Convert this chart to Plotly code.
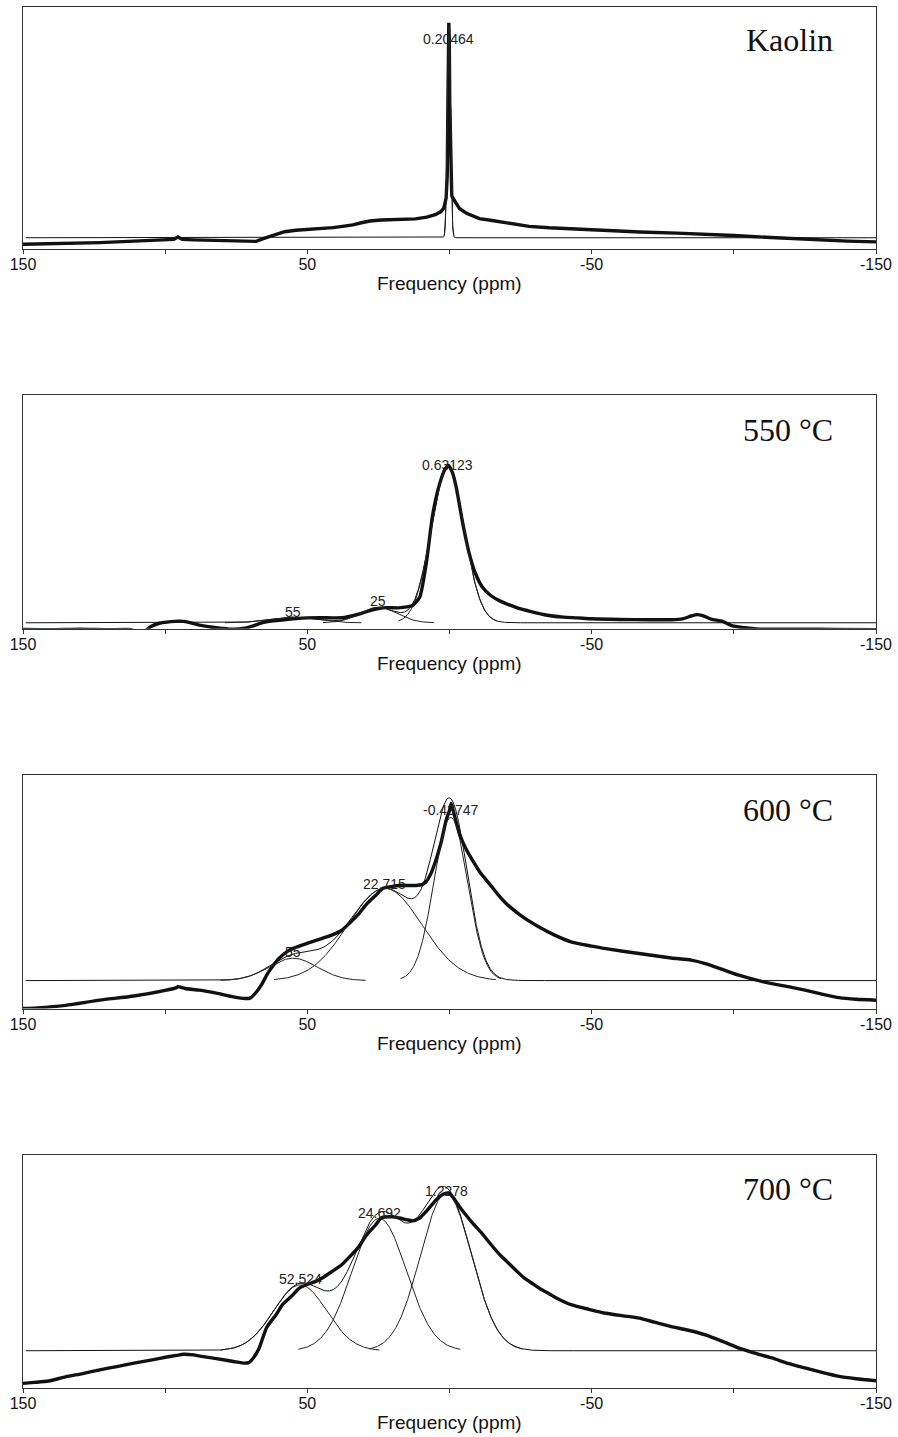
import numpy as np
import plotly.graph_objects as go

# ---------------------------------------------------------------------------
# 27Al MAS NMR spectra (chemical shift in ppm, intensity in % of panel height)
# ---------------------------------------------------------------------------
kaolin_ppm = [150, 146, 135, 123, 111, 100, 97, 95.5, 94, 90, 80, 72, 68, 65.5, 62,
              58, 54, 50, 45, 41, 37, 34, 31, 28, 24, 18, 12, 8, 5, 3, 2, 1.2, 0.8,
              0.6, 0.4, 0.25, 0.1, -0.1, -0.4, -0.8, -1.5, -3.5, -6, -8, -10.5, -15,
              -22, -28, -35, -43, -55, -67, -80, -90, -100, -113, -122, -131, -140, -150]
kaolin_int = [2.0, 2.1, 2.3, 2.7, 3.3, 3.9, 4.0, 5.0, 4.0, 3.8, 3.5, 3.2, 3.2, 4.3, 5.8,
              7.2, 7.8, 8.1, 8.5, 8.9, 9.5, 10.0, 10.9, 11.6, 12.0, 12.3, 12.5, 13.2, 14.2,
              15.5, 17.0, 21.0, 30.0, 55.0, 82.0, 93.5, 88.0, 60.0, 32.0, 22.0, 20.5, 16.8,
              14.8, 13.8, 12.6, 11.8, 10.4, 9.4, 8.8, 8.3, 7.6, 7.1, 6.6, 6.2, 5.6, 4.8,
              4.2, 3.7, 3.3, 3.0]

t550_ppm = [150, 140, 130, 120, 112, 110, 108, 106.5, 105, 102, 98, 95, 92, 88, 84, 80,
            76, 72, 69, 66, 62, 58, 54, 50, 45, 41, 37, 34, 31, 28, 25, 22, 18, 15, 13,
            10.5, 8.2, 5.9, 3.5, 1.5, 0.35, -1, -2.3, -4.7, -7, -9.2, -11.6, -14.5,
            -17.5, -23.4, -29, -35, -40, -45, -50, -60, -70, -78, -82, -85, -87, -89,
            -92, -96, -99, -103, -108, -115, -125, -135, -150]
t550_int = [-0.3, -0.4, -0.2, -0.4, -0.3, -1.5, -3.0, -0.5, 1.0, 2.4, 3.1, 3.3, 2.9, 1.6,
            0.8, 0.2, -0.2, 0.3, 1.3, 2.6, 3.4, 3.9, 4.4, 4.7, 4.8, 4.7, 4.9, 5.6, 6.6,
            7.8, 8.7, 9.1, 9.0, 9.4, 10.0, 13.5, 27.8, 49.0, 62.0, 68.5, 70.0, 67.0, 61.0,
            45.0, 32.0, 23.5, 17.8, 14.3, 12.1, 9.2, 7.3, 5.7, 5.0, 4.7, 4.3, 4.0, 3.9,
            3.9, 4.3, 5.5, 6.1, 5.7, 4.2, 3.2, 1.5, 0.6, 0.0, -0.2, -0.1, -0.3, -0.4]

t600_ppm = [150, 145, 135, 123, 111, 100, 96, 95.5, 93, 88, 82, 76, 72, 70, 68, 66, 64,
            62, 60, 57, 55, 50, 45, 41, 38, 35, 32, 29, 26, 23.5, 20, 17.6, 14, 11.8,
            9.5, 8.3, 6.5, 4.8, 3, 1.2, 0, -0.6, -1.5, -3.5, -6, -8.1, -11, -14, -17,
            -20, -25, -31.5, -37, -43, -50, -55, -66.7, -78, -85, -90, -96, -101.8,
            -107, -113.4, -120, -125, -131, -137, -143, -150]
t600_int = [0.0, 0.3, 1.4, 3.6, 5.4, 7.8, 9.0, 9.4, 8.6, 7.9, 6.6, 5.0, 4.3, 4.6, 7.0,
            10.5, 15.0, 18.5, 21.5, 24.5, 25.8, 28.0, 30.0, 31.7, 33.5, 36.8, 40.5, 45.0,
            48.5, 51.5, 52.4, 52.8, 52.8, 52.8, 53.3, 54.3, 58.0, 63.6, 71.0, 80.7, 85.0,
            88.0, 84.0, 75.0, 68.0, 63.6, 58.0, 53.6, 49.0, 45.0, 40.0, 35.0, 31.5, 28.5,
            26.8, 25.7, 23.6, 21.7, 20.8, 19.3, 16.8, 14.3, 12.5, 10.7, 9.2, 7.9, 6.2,
            4.7, 4.0, 3.6]

t700_ppm = [150, 146, 141, 135, 129, 123, 117, 111, 105, 99.5, 96, 93.6, 90, 87.8, 82,
            76, 72, 70.5, 69, 67, 64.3, 61, 58.6, 55.5, 52.7, 50, 47, 44, 41, 38, 35,
            32, 29.3, 26, 24, 20, 17.6, 15, 13, 10.5, 8.3, 6, 3.6, 1.5, 0, -1.5, -3.5,
            -6, -8, -11.7, -14, -17.5, -20, -23.4, -26, -29.2, -32, -35, -37.4, -43,
            -49, -55, -61, -66.7, -72, -78, -84, -90, -96, -101.8, -107, -113.4, -119,
            -125, -131, -137, -143, -150]
t700_int = [2.0, 2.4, 3.0, 4.8, 6.2, 7.8, 9.2, 10.7, 12.0, 13.3, 14.0, 14.5, 14.2, 13.7,
            12.6, 11.4, 10.7, 11.0, 12.9, 17.0, 26.0, 31.5, 36.0, 39.5, 43.0, 44.5, 45.8,
            47.8, 50.3, 52.8, 56.5, 60.5, 65.5, 70.0, 73.0, 73.5, 73.0, 72.3, 71.8, 73.0,
            75.7, 79.0, 82.1, 83.6, 83.6, 81.5, 77.9, 74.0, 71.0, 66.0, 62.5, 57.5, 54.5,
            50.5, 47.5, 44.8, 42.5, 40.5, 38.8, 35.7, 33.8, 32.1, 31.0, 30.0, 28.3, 26.4,
            24.8, 22.8, 20.0, 17.1, 15.1, 12.9, 10.6, 8.6, 6.7, 5.0, 4.0, 3.1]

# ---------------------------------------------------------------------------
# Gaussian deconvolution results: position (ppm), height (%), width sigma (ppm)
# ---------------------------------------------------------------------------
kaolin_pos = [0.20464]
kaolin_amp = [87.3]
kaolin_sigma = [0.55]
kaolin_base = 4.7

t550_pos = [0.63123, 25, 55]
t550_amp = [66.6, 6.6, 2.4]
t550_sigma = [5.8, 6.5, 8.0]
t550_base = 2.6

t600_pos = [-0.43747, 22.715, 55]
t600_amp = [70.0, 39.6, 9.6]
t600_sigma = [5.9, 13.0, 8.5]
t600_base = 12.0

t700_pos = [1.2278, 24.692, 52.524]
t700_amp = [67.6, 56.9, 28.3]
t700_sigma = [9.0, 9.5, 9.3]
t700_base = 16.0

panel_names = ["Kaolin", "550 °C", "600 °C", "700 °C"]
x_tick_vals = [150, 100, 50, 0, -50, -100, -150]
x_tick_text = ["150", "", "50", "", "-50", "", "-150"]
x_title = "Frequency (ppm)"

# ---------------------------------------------------------------------------
# Layout helpers (pixel geometry of the four frames)
# ---------------------------------------------------------------------------
W, H = 898, 1437
M_L, M_R, M_T, M_B = 23, 20, 6, 49
frame_px = [(6, 248.3), (394.7, 628.3), (775, 1008.3), (1155, 1388.3)]
name_dy = [-32.5, -35, -35, -34]           # panel name offset below frame top (px)
peak_label_dy = [[-13], [2.5, 6, 5], [7.5, 4.5, 6], [2.5, 5, 5.5]]
trace_shape = ["linear", "spline", "spline", "spline"]

INK = "#111111"
FRAME = "#333333"

panels = [
    (kaolin_ppm, kaolin_int, kaolin_pos, kaolin_amp, kaolin_sigma, kaolin_base),
    (t550_ppm, t550_int, t550_pos, t550_amp, t550_sigma, t550_base),
    (t600_ppm, t600_int, t600_pos, t600_amp, t600_sigma, t600_base),
    (t700_ppm, t700_int, t700_pos, t700_amp, t700_sigma, t700_base),
]


def gauss(x, c, a, s):
    return a * np.exp(-((x - c) ** 2) / (2.0 * s * s))


fig = go.Figure()
annotations = []
plot_h = H - M_T - M_B
full_grid = np.arange(149.0, -150.0001, -0.05)

for i, (ppm, inten, pos, amp, sig, base) in enumerate(panels):
    n = i + 1
    xa = "x" if n == 1 else f"x{n}"
    ya = "y" if n == 1 else f"y{n}"

    # measured spectrum
    fig.add_trace(go.Scatter(x=ppm, y=inten, mode="lines", xaxis=xa, yaxis=ya,
                             line=dict(color=INK, width=3.4, shape=trace_shape[i],
                                       smoothing=0.6),
                             hoverinfo="skip"))

    # total fit (baseline + all components)
    total = np.full_like(full_grid, base)
    for c, a, s in zip(pos, amp, sig):
        total = total + gauss(full_grid, c, a, s)
    fig.add_trace(go.Scatter(x=full_grid, y=total, mode="lines", xaxis=xa, yaxis=ya,
                             line=dict(color=INK, width=1), hoverinfo="skip"))

    # individual components over +/- 3 sigma
    for k, (c, a, s) in enumerate(zip(pos, amp, sig)):
        xs = np.linspace(c + 3 * s, c - 3 * s, 300)
        fig.add_trace(go.Scatter(x=xs, y=base + gauss(xs, c, a, s), mode="lines",
                                 xaxis=xa, yaxis=ya,
                                 line=dict(color="#222222", width=1), hoverinfo="skip"))
        annotations.append(dict(
            x=c, y=base + a, xref=xa, yref=ya, text=f"{c:g}", showarrow=False,
            xanchor="center", yanchor="middle", yshift=peak_label_dy[i][k],
            font=dict(family="Liberation Sans, Arial", size=14, color="#222222")))

    top_px, bot_px = frame_px[i]
    dom = [(H - M_B - bot_px) / plot_h, (H - M_B - top_px) / plot_h]
    dom = [max(0.0, dom[0]), min(1.0, dom[1])]

    fig.layout[("xaxis" if n == 1 else f"xaxis{n}")] = dict(
        domain=[0, 1], anchor=ya, range=[150, -150], showgrid=False, zeroline=False,
        showline=True, mirror=True, linecolor=FRAME, linewidth=1,
        ticks="outside", ticklen=4, tickwidth=1, tickcolor=FRAME,
        ticklabelstandoff=-3,
        tickvals=x_tick_vals, ticktext=x_tick_text,
        tickfont=dict(family="Liberation Sans, Arial", size=16, color=INK))
    fig.layout[("yaxis" if n == 1 else f"yaxis{n}")] = dict(
        domain=dom, anchor=xa, range=[0, 100], showgrid=False, zeroline=False,
        showline=True, mirror=True, linecolor=FRAME, linewidth=1,
        showticklabels=False, ticks="")

    # axis title
    annotations.append(dict(
        x=0.5, y=0, xref=f"{xa} domain", yref=f"{ya} domain", text=x_title,
        showarrow=False, xanchor="center", yanchor="middle", yshift=-34.7,
        font=dict(family="Liberation Sans, Arial", size=19, color=INK)))
    # sample name
    annotations.append(dict(
        x=1, y=1, xref=f"{xa} domain", yref=f"{ya} domain", text=panel_names[i],
        showarrow=False, xanchor="right", yanchor="middle", xshift=-41,
        yshift=name_dy[i],
        font=dict(family="Liberation Serif, Times New Roman", size=32, color=INK)))

fig.update_layout(
    width=W, height=H, margin=dict(l=M_L, r=M_R, t=M_T, b=M_B),
    paper_bgcolor="white", plot_bgcolor="white", showlegend=False,
    annotations=annotations,
)

fig.write_html("out.html")
